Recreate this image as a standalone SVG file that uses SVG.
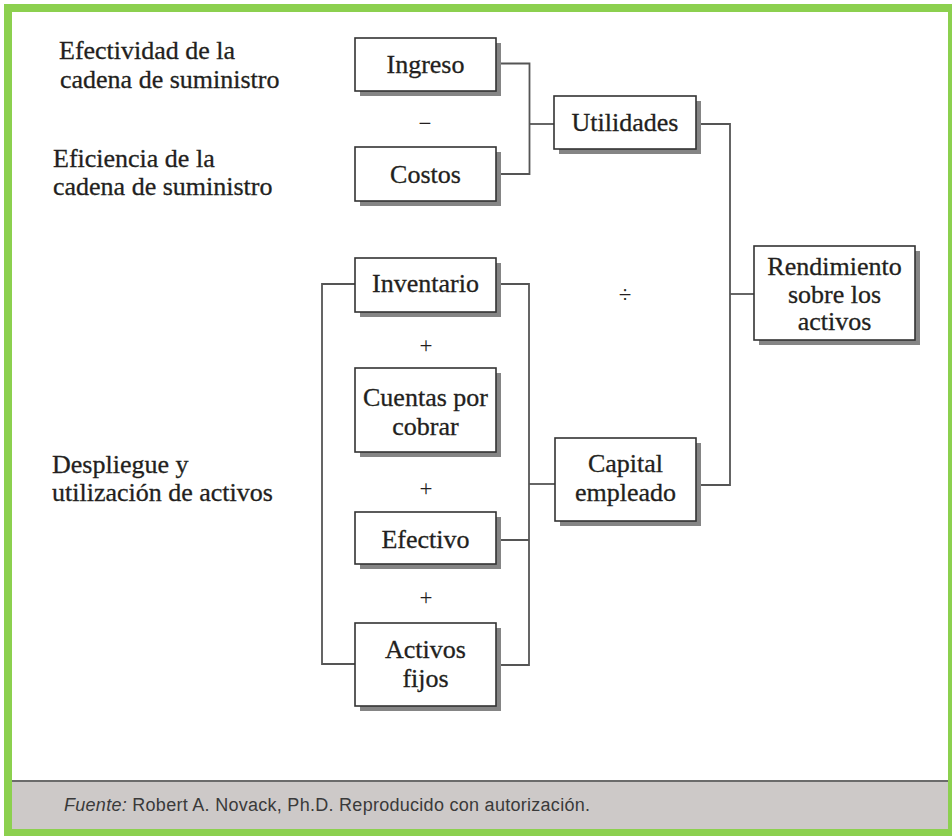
<svg xmlns="http://www.w3.org/2000/svg" width="952" height="836" viewBox="0 0 952 836">
  <style>
    .frame { fill: #8cd04f; }
    .panel { fill: #ffffff; }
    .footer { fill: #cdc9c8; }
    .rule { stroke: #6b6b6b; stroke-width: 2; }
    .shadow { fill: #858585; }
    .box { fill: #ffffff; stroke: #333333; stroke-width: 1.6; }
    .lbl { font-family: "Liberation Serif", "Times New Roman", serif; font-size: 26px; fill: #231f20; stroke: #231f20; stroke-width: 0.3; }
    .c { text-anchor: middle; }
    .op { font-family: "Liberation Serif", "Times New Roman", serif; font-size: 23px; fill: #231f20; text-anchor: middle; }
    .wire { fill: none; stroke: #555555; stroke-width: 1.8; }
    .src { font-family: "Liberation Sans", Arial, sans-serif; font-size: 18px; fill: #3a3a3a; }
  </style>

  <!-- frame and footer band -->
  <rect class="frame" x="4" y="4" width="948" height="832"/>
  <rect class="panel" x="12" y="12" width="936" height="817"/>
  <rect class="footer" x="12" y="781" width="936" height="48"/>
  <line class="rule" x1="12" y1="781" x2="948" y2="781"/>
  <text class="src" x="64" y="811" textLength="526"><tspan font-style="italic">Fuente:</tspan> Robert A. Novack, Ph.D. Reproducido con autorización.</text>

  <!-- side captions -->
  <g id="lbl-efectividad">
    <text class="lbl" x="59" y="59">Efectividad de la</text>
    <text class="lbl" x="60" y="88">cadena de suministro</text>
  </g>
  <g id="lbl-eficiencia">
    <text class="lbl" x="53" y="167">Eficiencia de la</text>
    <text class="lbl" x="53" y="195">cadena de suministro</text>
  </g>
  <g id="lbl-despliegue">
    <text class="lbl" x="52" y="473">Despliegue y</text>
    <text class="lbl" x="52" y="501">utilización de activos</text>
  </g>

  <!-- connectors -->
  <g id="connectors">
    <path class="wire" d="M496 63.5 H529.5 V174 H496"/>
    <path class="wire" d="M529.5 124 H554"/>
    <path class="wire" d="M696 124 H730 V485 H696"/>
    <path class="wire" d="M730 294 H754"/>
    <path class="wire" d="M355 284 H322 V664 H355"/>
    <path class="wire" d="M496 284 H529 V665 H496"/>
    <path class="wire" d="M496 540 H529"/>
    <path class="wire" d="M529 484 H555"/>
  </g>

  <!-- operators -->
  <g id="operators">
    <text class="op" x="425" y="131">−</text>
    <text class="op" x="426" y="353">+</text>
    <text class="op" x="426" y="496">+</text>
    <text class="op" x="426" y="605">+</text>
    <text class="op" x="625" y="302">÷</text>
  </g>

  <!-- nodes -->
  <g id="ingreso">
    <rect class="shadow" x="360" y="43" width="141" height="53"/>
    <rect class="box" x="355" y="38" width="141" height="53"/>
    <text class="lbl c" x="425.5" y="73">Ingreso</text>
  </g>
  <g id="costos">
    <rect class="shadow" x="360" y="152" width="141" height="54"/>
    <rect class="box" x="355" y="147" width="141" height="54"/>
    <text class="lbl c" x="425.5" y="183">Costos</text>
  </g>
  <g id="utilidades">
    <rect class="shadow" x="559" y="101" width="142" height="53"/>
    <rect class="box" x="554" y="96" width="142" height="53"/>
    <text class="lbl c" x="625" y="131">Utilidades</text>
  </g>
  <g id="inventario">
    <rect class="shadow" x="360" y="263" width="141" height="54"/>
    <rect class="box" x="355" y="258" width="141" height="54"/>
    <text class="lbl c" x="425.5" y="292">Inventario</text>
  </g>
  <g id="cuentas">
    <rect class="shadow" x="360" y="373" width="141" height="84"/>
    <rect class="box" x="355" y="368" width="141" height="84"/>
    <text class="lbl c" x="425.5" y="406">Cuentas por</text>
    <text class="lbl c" x="425.5" y="435">cobrar</text>
  </g>
  <g id="efectivo">
    <rect class="shadow" x="360" y="517" width="141" height="52"/>
    <rect class="box" x="355" y="512" width="141" height="52"/>
    <text class="lbl c" x="425.5" y="548">Efectivo</text>
  </g>
  <g id="activos-fijos">
    <rect class="shadow" x="360" y="628" width="141" height="83"/>
    <rect class="box" x="355" y="623" width="141" height="83"/>
    <text class="lbl c" x="425.5" y="658">Activos</text>
    <text class="lbl c" x="425.5" y="687">fijos</text>
  </g>
  <g id="capital">
    <rect class="shadow" x="560" y="443" width="141" height="83"/>
    <rect class="box" x="555" y="438" width="141" height="83"/>
    <text class="lbl c" x="625.5" y="472">Capital</text>
    <text class="lbl c" x="625.5" y="501">empleado</text>
  </g>
  <g id="rendimiento">
    <rect class="shadow" x="759" y="251" width="161" height="94"/>
    <rect class="box" x="754" y="246" width="161" height="94"/>
    <text class="lbl c" x="834.5" y="275">Rendimiento</text>
    <text class="lbl c" x="834.5" y="303">sobre los</text>
    <text class="lbl c" x="834.5" y="330">activos</text>
  </g>
</svg>
